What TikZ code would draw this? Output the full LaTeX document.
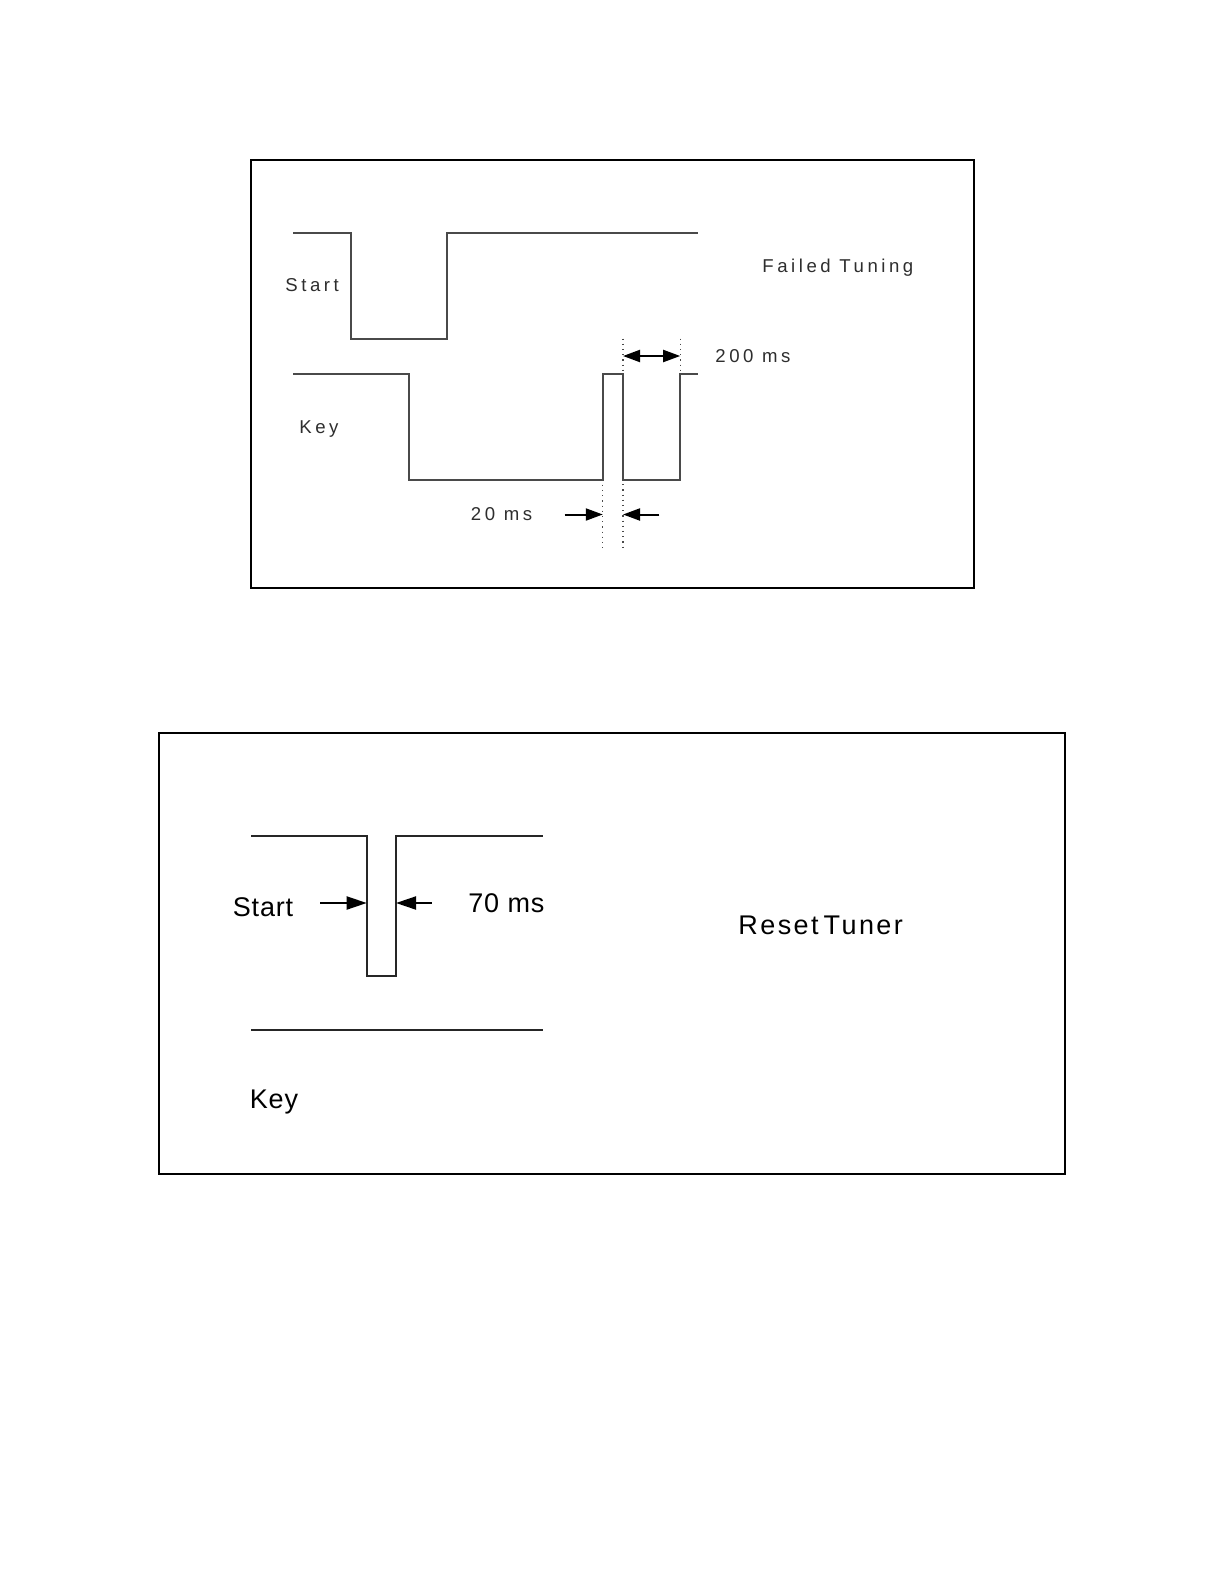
\documentclass[tikz,border=0pt]{standalone}
\usepackage{fontspec}
\setmainfont{Liberation Sans}
\newfontfamily\topfont[LetterSpace=19]{Liberation Sans}
\newfontfamily\botfont[LetterSpace=3]{Liberation Sans}
\newfontfamily\resetfont[LetterSpace=9]{Liberation Sans}
\usetikzlibrary{arrows.meta}
\definecolor{sig}{HTML}{4A4A4A}
\definecolor{sigb}{HTML}{262626}
\definecolor{txt}{HTML}{2E2E2E}
\begin{document}
\begin{tikzpicture}[x=0.5pt,y=-0.5pt,
  frame/.style={draw=black,line width=1pt},
  wave/.style={draw=sig,line width=1pt,line join=miter},
  waveb/.style={draw=sigb,line width=1pt,line join=miter},
  guide/.style={draw=sig,line width=0.6pt,dotted},
  dimarr/.style={draw=black,line width=1pt,-{Triangle[length=8.5pt,width=6pt]}},
  dimarrb/.style={draw=black,line width=1pt,-{Triangle[length=10pt,width=6.5pt]}},
  toplabel/.style={font=\topfont\fontsize{9.3pt}{11pt}\selectfont,text=txt,inner sep=0pt},
  botlabel/.style={font=\botfont\fontsize{13.5pt}{16pt}\selectfont,text=black,inner sep=0pt}]
\useasboundingbox (0,0) rectangle (1224,1584);
\fill[white] (0,0) rectangle (1224,1584);
% ---------------- top panel ----------------
\draw[frame] (250.5,159.6) rectangle (973.5,587.8);
% Start waveform
\draw[wave] (293,233) -- (350.6,233) -- (350.6,338.5) -- (446.5,338.5) -- (446.5,233) -- (698,233);
% Key waveform
\draw[wave] (293,373.5) -- (408.7,373.5) -- (408.7,479.5) -- (602.8,479.5) -- (602.8,373.5) -- (623,373.5) -- (623,479.5) -- (680.2,479.5) -- (680.2,373.5) -- (698,373.5);
% guides
\coordinate (g1t) at (602.8,479.5); \coordinate (g1b) at (602.8,548);
\coordinate (g2t) at (623,338.5);   \coordinate (g2b) at (623,548);
\coordinate (g3t) at (680.2,338.5); \coordinate (g3b) at (680.2,373.5);
\draw[guide] (g1t) -- (g1b);
\draw[guide] (g2t) -- (g2b);
\draw[guide] (g3t) -- (g3b);
% 200 ms
\coordinate (a2l) at (623,356); \coordinate (a2r) at (680.2,356);
\coordinate (a2m) at (651.6,356);
\draw[dimarr] (a2m) -- (a2l);
\draw[dimarr] (a2m) -- (a2r);
% 20 ms
\coordinate (b1s) at (564.5,514.5); \coordinate (b1e) at (602.8,514.5);
\coordinate (b2s) at (659.4,514.5); \coordinate (b2e) at (623,514.5);
\draw[dimarr] (b1s) -- (b1e);
\draw[dimarr] (b2s) -- (b2e);
% labels
\node[toplabel,anchor=west] (lstart) at (285,285) {Start};
\node[toplabel,anchor=west] (lkey) at (299,429) {Key};
\node[toplabel,anchor=west] (lfail) at (762,268) {Failed Tuning};
\node[toplabel,anchor=west] (l200) at (715,356) {200 ms};
\node[toplabel,anchor=west] (l20) at (470.5,514) {20 ms};
% ---------------- bottom panel ----------------
\draw[frame] (158.6,733.2) rectangle (1065.4,1173.5);
\draw[waveb] (251.2,835.5) -- (366.7,835.5) -- (366.7,975.7) -- (396,975.7) -- (396,835.5) -- (542.6,835.5);
\draw[waveb] (251.2,1029.7) -- (542.6,1029.7);
\coordinate (c1s) at (320,903); \coordinate (c1e) at (366.7,903);
\coordinate (c2s) at (431.7,903); \coordinate (c2e) at (396,903);
\draw[dimarrb] (c1s) -- (c1e);
\draw[dimarrb] (c2s) -- (c2e);
\node[botlabel,anchor=west] (bstart) at (232.5,907) {Start};
\node[botlabel,anchor=west] (b70) at (468,903) {70 ms};
\node[botlabel,anchor=west] (bkey) at (249.5,1102) {Key};
\node[botlabel,anchor=west,font=\resetfont\fontsize{13.5pt}{16pt}\selectfont] (breset) at (738,925) {Reset\hspace{2.5pt}Tuner};
\end{tikzpicture}
\end{document}
